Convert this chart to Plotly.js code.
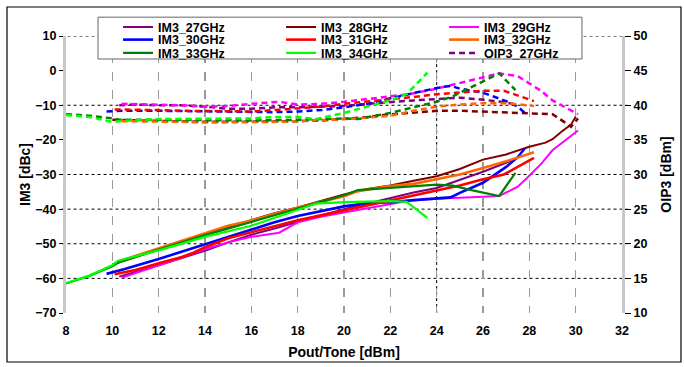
<!DOCTYPE html>
<html>
<head>
<meta charset="utf-8">
<script src="https://cdn.plot.ly/plotly-3.0.1.min.js"></script>
<style>html,body{margin:0;padding:0;background:#fff;}#chart{width:684px;height:367px;}</style>
</head>
<body>
<div id="chart"></div>
<script>
// ---------- data ----------
const seriesNames = ["IM3_27GHz","IM3_28GHz","IM3_29GHz","IM3_30GHz","IM3_31GHz","IM3_32GHz","IM3_33GHz","IM3_34GHz"];
const oipNames = ["OIP3_27GHz","OIP3_28GHz","OIP3_29GHz","OIP3_30GHz","OIP3_31GHz","OIP3_32GHz","OIP3_33GHz","OIP3_34GHz"];
const colors = ["#800080","#800000","#FF00FF","#0000FF","#FF0000","#FF6600","#008000","#00FF00"];

// Pout/Tone [dBm]
const x27 = [10.3,11,12,13,14,15,16,17,18,19,20,21,22,23,24,25,26,27,27.4];
const x28 = [10,11,12,13,14,15,16,17,18,19,20,21,22,23,24,25,26,27,28,28.7,29,29.4,29.8,30];
const x29 = [10.4,12,13,14,15,16,17.2,18,19,20,21,22,22.8,24,25,26,26.7,27.5,27.9,28.5,29,29.5,30.1];
const x30 = [9.75,10.5,12,13,14,15,16,17,18,19,20,21,22,23,24,24.6,25,26,27,27.5,27.8];
const x31 = [10.1,11,12,13,13.5,14,15,16,17,18,19,20,21,22,23,24,25,26,26.9,27.5,28.2];
const x32 = [10.4,11,12,13,14,15,16,17,18,19,20,20.6,22,23,24,25,26,27,28.2];
const x33 = [8,9,10,10.3,12,14,16,18,19,20,20.6,22,23,24,24.7,25.5,26.7,27.4];
const x34 = [8,9,10,10.25,12,14,16,17,18,18.8,20,21,22,22.7,23.6];

// IM3 [dBc]
const im3_27 = [-59.5,-58.2,-56.2,-54.1,-52,-49.6,-47.4,-45.6,-43.6,-41.8,-40,-38.4,-36.8,-35.2,-33.9,-31.6,-29.2,-26.6,-25.5];
const im3_28 = [-56,-53.8,-51.5,-49.3,-47.3,-45.2,-43.2,-41.2,-39.5,-37.6,-35.8,-34.2,-33.2,-31.8,-30.5,-28.4,-25.7,-24.2,-22,-20.8,-19.8,-17.6,-15.6,-13.3];
const im3_29 = [-59.8,-56.3,-54,-51.5,-49.6,-48,-46.8,-43.8,-42.2,-41,-39.8,-38.4,-37.6,-37,-36.6,-36.4,-36.2,-33.5,-31,-27,-23,-20.5,-17.3];
const im3_30 = [-58.7,-57.4,-54.4,-52.3,-50.2,-48,-45.8,-43.8,-42,-40.6,-39.2,-38.3,-38,-37.4,-37,-36.6,-35.3,-32.4,-27.8,-25,-22.5];
const im3_31 = [-58.8,-57.6,-55.6,-53.8,-52.6,-51,-48.4,-46.6,-44.8,-43.2,-41.8,-40.4,-39,-37.6,-36.2,-34.8,-33.2,-31.4,-30,-27.8,-25.2];
const im3_32 = [-54.8,-53.5,-51.2,-49,-46.8,-44.8,-43.3,-41.3,-39.6,-38,-36.3,-34.8,-33.3,-32.7,-31.4,-30,-28.1,-26.2,-23.6];
const im3_33 = [-61.5,-59.3,-56.5,-55.3,-51.7,-47.5,-43.7,-39.8,-37.8,-36,-34.5,-33.8,-33.3,-32.9,-33.2,-34.5,-36.2,-29.5];
const im3_34 = [-61.4,-59.2,-56.2,-54.9,-51.9,-48,-44.8,-42.5,-40.4,-38.4,-38,-37.8,-37.7,-37.9,-42.5];

// OIP3 [dBm]
const xo28 = [10,11,12,13,14,15,16,17,18,19,20,21,22,23,24,25,26,27,28,29,29.5,29.8,30.1];
const oip27 = [40.0,40.1,40.0,40.0,39.8,39.5,39.5,39.7,39.7,39.8,39.9,40.2,40.5,40.7,40.9,41.1,40.8,40.4,40.1];
const oip28 = [37.9,37.8,37.7,37.6,37.6,37.6,37.6,37.6,37.7,37.8,38.0,38.3,38.7,39.0,39.2,39.2,39.1,39.0,38.9,38.7,37.6,36.9,38.1];
const oip29 = [40.2,40.1,40.0,39.8,39.9,40.2,40.5,40.1,40.2,40.5,40.9,41.2,41.6,42.4,43.2,44.1,44.6,44.2,43.4,42.1,40.7,39.8,38.7];
const oip30 = [39.1,39.2,39.2,39.15,39.1,39.0,39.0,39.0,39.1,39.3,39.7,40.2,41.0,41.7,42.5,42.8,42.4,41.8,40.6,39.8,38.9];
const oip31 = [39.4,39.4,39.3,39.2,39.2,39.2,39.1,39.1,39.3,39.5,39.8,40.2,40.5,40.8,41.2,41.6,41.9,42.1,42.1,41.4,40.6];
const oip32 = [37.7,37.7,37.6,37.6,37.5,37.5,37.5,37.6,37.7,37.9,38.0,38.1,38.5,39.2,39.8,40.1,40.3,40.3,39.9];
const oip33 = [38.7,38.5,38.1,37.9,37.9,37.8,37.8,37.9,38.0,38.1,38.0,38.9,39.7,40.5,41.3,42.6,44.6,42.2];
const oip34 = [38.6,38.3,37.6,37.7,38.0,38.0,38.1,38.3,38.3,38.0,38.9,39.8,40.7,41.6,44.7];

// axis ticks
const xTickVals = [8,10,12,14,16,18,20,22,24,26,28,30,32];
const leftTickVals = [-70,-60,-50,-40,-30,-20,-10,0,10];
const rightTickVals = [10,15,20,25,30,35,40,45,50];
const leftGridVals = [10,-10,-30,-40,-50,-60];
const darkVGrid = [24];

// ---------- traces ----------
const im3X = [x27,x28,x29,x30,x31,x32,x33,x34];
const im3Y = [im3_27,im3_28,im3_29,im3_30,im3_31,im3_32,im3_33,im3_34];
const oipX = [x27,xo28,x29,x30,x31,x32,x33,x34];
const oipY = [oip27,oip28,oip29,oip30,oip31,oip32,oip33,oip34];
const solidWidths = [2,2,2,2.6,2.6,2.6,2.2,2.2];
const legendRow = ['legend','legend','legend','legend2','legend2','legend2','legend3','legend3'];

const traces = [];
for (let i = 0; i < 8; i++) {
  traces.push({
    type: 'scatter', mode: 'lines', name: seriesNames[i],
    x: im3X[i], y: im3Y[i], yaxis: 'y', legend: legendRow[i],
    line: {color: colors[i], width: solidWidths[i]}
  });
}
for (let i = 0; i < 8; i++) {
  traces.push({
    type: 'scatter', mode: 'lines', name: oipNames[i],
    x: oipX[i], y: oipY[i], yaxis: 'y2', legend: 'legend3',
    showlegend: i === 0,
    line: {color: colors[i], width: 2.5, dash: '6px,4px'}
  });
}

// ---------- decorations ----------
const shapes = [];
leftGridVals.forEach(v => shapes.push({
  type: 'line', xref: 'paper', yref: 'y', x0: -0.008, x1: 1.01, y0: v, y1: v,
  line: {color: '#000', width: 1, dash: 'dot'}, layer: 'below'
}));
darkVGrid.forEach(v => shapes.push({
  type: 'line', xref: 'x', yref: 'paper', x0: v, x1: v, y0: 0, y1: 1,
  line: {color: '#000', width: 1, dash: 'dot'}, layer: 'below'
}));
// outer frame
shapes.push({type: 'rect', xref: 'paper', yref: 'paper', x0: -0.1061, x1: 1.1061, y0: -0.1769, y1: 1.1047,
  line: {color: '#000', width: 1.2}, fillcolor: 'rgba(0,0,0,0)', layer: 'above'});
// legend box
shapes.push({type: 'rect', xref: 'paper', yref: 'paper', x0: 0.0576, x1: 0.928, y0: 0.917, y1: 1.068,
  line: {color: '#666', width: 1}, fillcolor: '#fff', layer: 'above'});

const fam = '"Liberation Sans", Arial, sans-serif';
const baseFont = {family: fam, size: 12, color: '#000', weight: 'bold'};

function legendRowCfg(yPaper) {
  return {
    orientation: 'h', x: 0.0936, xanchor: 'left', y: yPaper, yanchor: 'middle',
    bgcolor: 'rgba(0,0,0,0)', borderwidth: 0,
    entrywidth: 118, entrywidthmode: 'pixels',
    font: {family: fam, size: 12.5, color: '#000', weight: 'bold'},
    tracegroupgap: 0, traceorder: 'normal'
  };
}

const layout = {
  width: 684, height: 367,
  margin: {l: 66, r: 62, t: 36, b: 54},
  paper_bgcolor: '#fff', plot_bgcolor: '#fff',
  font: baseFont,
  showlegend: true,
  legend: legendRowCfg(1.0307),
  legend2: legendRowCfg(0.9856),
  legend3: legendRowCfg(0.9375),
  xaxis: {
    range: [8, 32], tickvals: xTickVals, ticks: 'outside', ticklen: 6, tickcolor: 'rgba(0,0,0,0)',
    showline: false, zeroline: false,
    showgrid: true, gridcolor: '#9a9a9a', gridwidth: 1.5, griddash: 'dash',
    title: {text: 'Pout/Tone [dBm]', font: {size: 14, weight: 'bold'}, standoff: 10},
    tickfont: {size: 12.5, weight: 'bold'}, fixedrange: true
  },
  yaxis: {
    range: [-70, 10], tickvals: leftTickVals, ticks: 'outside', ticklen: 4, tickcolor: '#000', tickwidth: 1,
    showline: true, linecolor: '#c8c8c8', linewidth: 3, showgrid: false, zeroline: false,
    title: {text: 'IM3 [dBc]', font: {size: 14, weight: 'bold'}, standoff: 2},
    tickfont: {size: 12.5, weight: 'bold'}
  },
  yaxis2: {
    range: [10, 50], tickvals: rightTickVals, overlaying: 'y', side: 'right', anchor: 'x',
    ticks: 'outside', ticklen: 6, tickcolor: '#000', tickwidth: 1,
    showline: true, linecolor: '#c8c8c8', linewidth: 3, showgrid: false, zeroline: false,
    title: {text: 'OIP3 [dBm]', font: {size: 14, weight: 'bold'}, standoff: 15},
    tickfont: {size: 12.5, weight: 'bold'}
  },
  shapes: shapes
};

Plotly.newPlot('chart', traces, layout, {displayModeBar: false, staticPlot: true});
</script>
</body>
</html>
